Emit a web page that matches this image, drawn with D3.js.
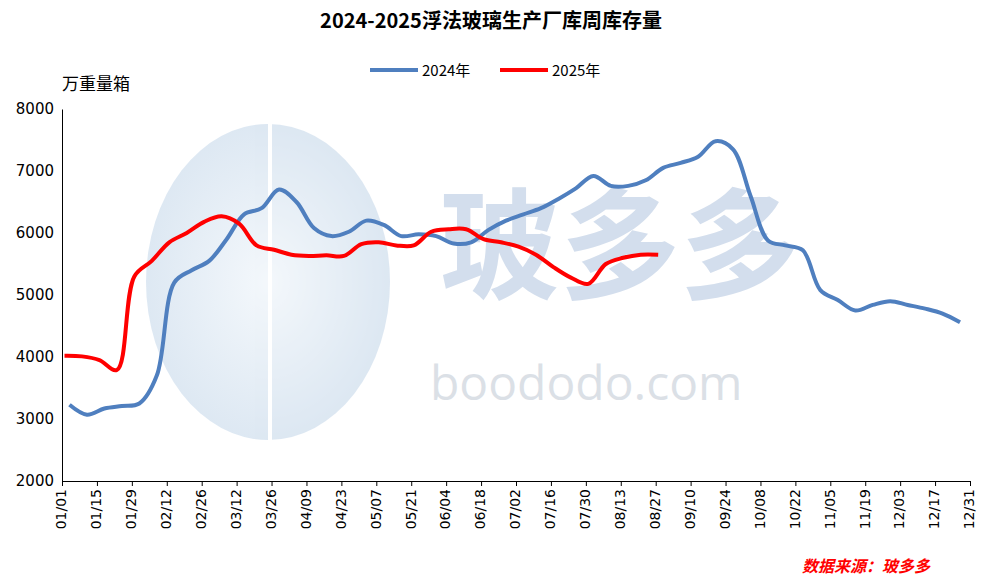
<html>
<head>
<meta charset="UTF-8">
<style>
*{margin:0;padding:0;}
body{background:#fff;}
svg{display:block;font-family:"Noto Sans CJK SC","DejaVu Sans",sans-serif;}
</style>
</head>
<body>
<div class="container"></div>
<script src="https://cdn.jsdelivr.net/npm/d3@7/dist/d3.min.js"></script>
<script>
// 周库存，万重量箱（按年内日期对齐到同一年）
var start2024 = "2025-01-04";
var values2024 = [3230,3070,3170,3210,3250,3700,5200,5400,5550,5900,6300,6400,6700,6500,6080,5950,6020,6200,6130,5950,
  5980,5950,5830,5850,6050,6200,6300,6400,6550,6720,6920,6760,6760,6850,7050,7130,7230,7480,7350,6600,
  5880,5800,5720,5080,4920,4750,4840,4900,4840,4780,4700,4560];
var start2025 = "2025-01-02";
var values2025 = [4020,4010,3950,3790,5300,5550,5850,6000,6180,6270,6150,5800,5730,5650,5630,5640,5630,5820,5850,5800,
  5800,6020,6060,6060,5900,5850,5780,5650,5450,5280,5180,5500,5600,5650,5650];
var yTicks = [2000,3000,4000,5000,6000,7000,8000];

var width = 982, height = 580;
var mLeft = 62, mRight = 970, mTop = 109, mBottom = 481;
var parse = d3.utcParse("%Y-%m-%d");

function weekly(s, vals){
  var d0 = parse(s);
  return vals.map(function(v,i){ return {date: d3.utcDay.offset(d0, i*7), value: v}; });
}
var s1 = weekly(start2024, values2024), s2 = weekly(start2025, values2025);

var x = d3.scaleUtc().domain([parse("2025-01-01"), parse("2025-12-31")]).range([mLeft, mRight]);
var y = d3.scaleLinear().domain([2000, 8000]).range([mBottom, mTop]);

var svg = d3.select(".container").append("svg").attr("width", width).attr("height", height);

// 水印
var wm = svg.append("g").attr("opacity", 0.3);
var grad = svg.append("defs").append("radialGradient").attr("id","wg");
grad.append("stop").attr("offset","0%").attr("stop-color","#dbe8f4");
grad.append("stop").attr("offset","100%").attr("stop-color","#8fb3d6");
wm.append("ellipse").attr("cx", 268).attr("cy", 282).attr("rx", 122).attr("ry", 158).attr("fill","url(#wg)");
wm.append("rect").attr("x",268).attr("y",124).attr("width",4).attr("height",316).attr("fill","#fff");
wm.append("text").attr("x", 440).attr("y", 290).attr("font-size", 120).attr("fill", "#6f93c4")
  .attr("font-family","Noto Sans CJK SC").attr("font-weight","bold").text("玻多多");
wm.append("text").attr("x", 430).attr("y", 400).attr("font-size", 48).attr("fill", "#8b9ab0")
  .attr("font-family","Open Sans").text("boododo.com");

// 坐标轴
var yAxis = svg.append("g").attr("transform","translate("+mLeft+",0)")
  .call(d3.axisLeft(y).tickValues(yTicks).tickSize(0).tickPadding(8).tickFormat(d3.format("d")));
yAxis.select(".domain").attr("stroke","#000");
yAxis.selectAll("text").attr("font-size",15).attr("font-family","DejaVu Sans").attr("fill","#000");

var xTicks = d3.utcDay.range(parse("2025-01-01"), parse("2026-01-01"), 1).filter(function(d,i){ return i % 14 === 0; });
var xAxis = svg.append("g").attr("transform","translate(0,"+mBottom+")")
  .call(d3.axisBottom(x).tickValues(xTicks).tickFormat(d3.utcFormat("%m/%d")).tickSize(5));
xAxis.select(".domain").attr("stroke","#000");
xAxis.selectAll("line").attr("stroke","#000");
xAxis.selectAll("text").attr("font-size",14).attr("font-family","DejaVu Sans").attr("fill","#000")
  .attr("transform","rotate(-90)").attr("text-anchor","end").attr("dx","-8").attr("dy","-0.3em");

// 折线
var line = d3.line().x(function(d){ return x(d.date); }).y(function(d){ return y(d.value); }).curve(d3.curveCatmullRom);
svg.append("path").datum(s1).attr("d", line).attr("fill","none").attr("stroke","#4f7fbf").attr("stroke-width",4);
svg.append("path").datum(s2).attr("d", line).attr("fill","none").attr("stroke","#ff0000").attr("stroke-width",4);

// 标题、图例、单位
svg.append("text").attr("x", 491).attr("y", 28).attr("text-anchor","middle").attr("font-size",20)
  .attr("font-weight","bold").text("2024-2025浮法玻璃生产厂库周库存量");
svg.append("text").attr("x", 62).attr("y", 90).attr("font-size",17).text("万重量箱");
var legend = [{name:"2024年", c:"#4f7fbf", x:370},{name:"2025年", c:"#ff0000", x:500}];
legend.forEach(function(l){
  svg.append("line").attr("x1", l.x).attr("x2", l.x+48).attr("y1",70).attr("y2",70).attr("stroke", l.c).attr("stroke-width",4);
  svg.append("text").attr("x", l.x+52).attr("y",76).attr("font-size",15).text(l.name);
});
svg.append("text").attr("x", 930).attr("y", 572).attr("text-anchor","end").attr("font-size",16)
  .attr("font-style","italic").attr("font-weight","bold").attr("fill","#ff0000").text("数据来源：玻多多");
</script>
</body>
</html>
